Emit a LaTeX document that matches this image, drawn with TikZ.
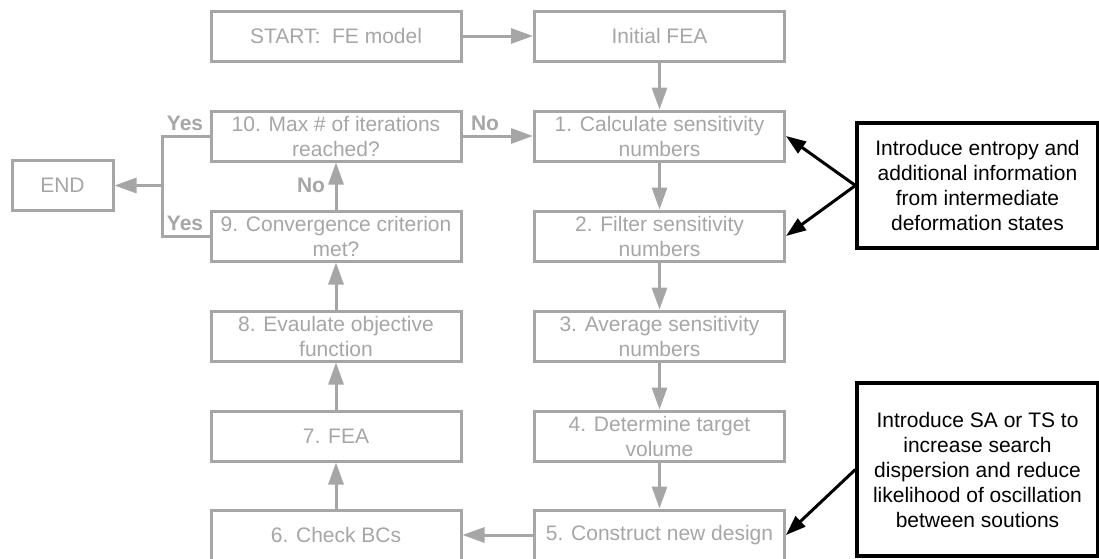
\documentclass[tikz,border=0pt]{standalone}
\usepackage{fontspec}
\setmainfont{Liberation Sans}
\usetikzlibrary{arrows.meta}
\definecolor{flowgray}{RGB}{166,166,166}
\begin{document}
\begin{tikzpicture}[x=0.5pt,y=-0.5pt,
	font=\fontsize{10.5}{12.5}\selectfont,
	stage/.style={draw=flowgray,line width=1.5pt,text=flowgray,minimum width=125pt,minimum height=25pt,align=center,inner sep=1pt},
	note/.style={draw=black,line width=1.6pt,minimum width=120.5pt,align=center,inner sep=1pt},
	flow/.style={draw=flowgray,line width=1.5pt,-{Triangle[length=11pt,width=7.5pt]}},
	hint/.style={draw=black,line width=1.5pt,-{Triangle[length=10pt,width=7pt]}},
	answer/.style={text=flowgray,font=\fontsize{10.5}{12.5}\selectfont\bfseries}]
			\useasboundingbox (0,0) rectangle (1099,558);
			%% left column
			\node[stage] (start) at (336,36) {START:\ \ FE model};
			\node[stage] (s10) at (336,136) {10. Max \# of iterations\\reached?};
			\node[stage] (s9) at (336,236) {9. Convergence criterion\\met?};
			\node[stage] (s8) at (336,336) {8. Evaulate objective\\function};
			\node[stage] (s7) at (336,436) {7. FEA};
			\node[stage] (s6) at (336,535) {6. Check BCs};
			\node[stage,minimum width=50.5pt] (finish) at (62.5,185.5) {END};
			%% right column
			\node[stage] (fea) at (659.5,36) {Initial FEA};
			\node[stage] (s1) at (659.5,136) {1. Calculate sensitivity\\numbers};
			\node[stage] (s2) at (659.5,236) {2. Filter sensitivity\\numbers};
			\node[stage] (s3) at (659.5,336) {3. Average sensitivity\\numbers};
			\node[stage] (s4) at (659.5,436) {4. Determine target\\volume};
			\node[stage] (s5) at (659.5,535) {5. Construct new design};
			%% notes
			\node[note,minimum height=62.5pt] (entropy) at (977.5,185.5) {Introduce entropy and\\additional information\\from intermediate\\deformation states};
			\node[note,minimum height=86.5pt] (anneal) at (977.5,469.5) {Introduce SA or TS to\\increase search\\dispersion and reduce\\likelihood of oscillation\\between soutions};
			%% answers
			\node[answer] (yes10) at (185,123) {Yes};
			\node[answer] (yes9) at (185,223) {Yes};
			\node[answer] (no10) at (485,123) {No};
			\node[answer] (no9) at (311,185) {No};
			%%% edges
			\coordinate (split) at (162,185.5);
			\draw[flow] (start) -- (fea);
			\draw[flow] (fea) -- (s1);
			\draw[flow] (s1) -- (s2);
			\draw[flow] (s2) -- (s3);
			\draw[flow] (s3) -- (s4);
			\draw[flow] (s4) -- (s5);
			\draw[flow] (s5) -- (s6);
			\draw[flow] (s6) -- (s7);
			\draw[flow] (s7) -- (s8);
			\draw[flow] (s8) -- (s9);
			\draw[flow] (s9) -- (s10);
			\draw[flow] (s10) -- (s1);
			\draw[draw=flowgray,line width=1.5pt] (s10.west) -| (split) |- (s9.west);
			\draw[flow] (split) -- (finish);
			\draw[hint] (entropy.west) -- (s1.east);
			\draw[hint] (entropy.west) -- (s2.east);
			\draw[hint] (anneal.west) -- (s5.east);
		\end{tikzpicture}
\end{document}
